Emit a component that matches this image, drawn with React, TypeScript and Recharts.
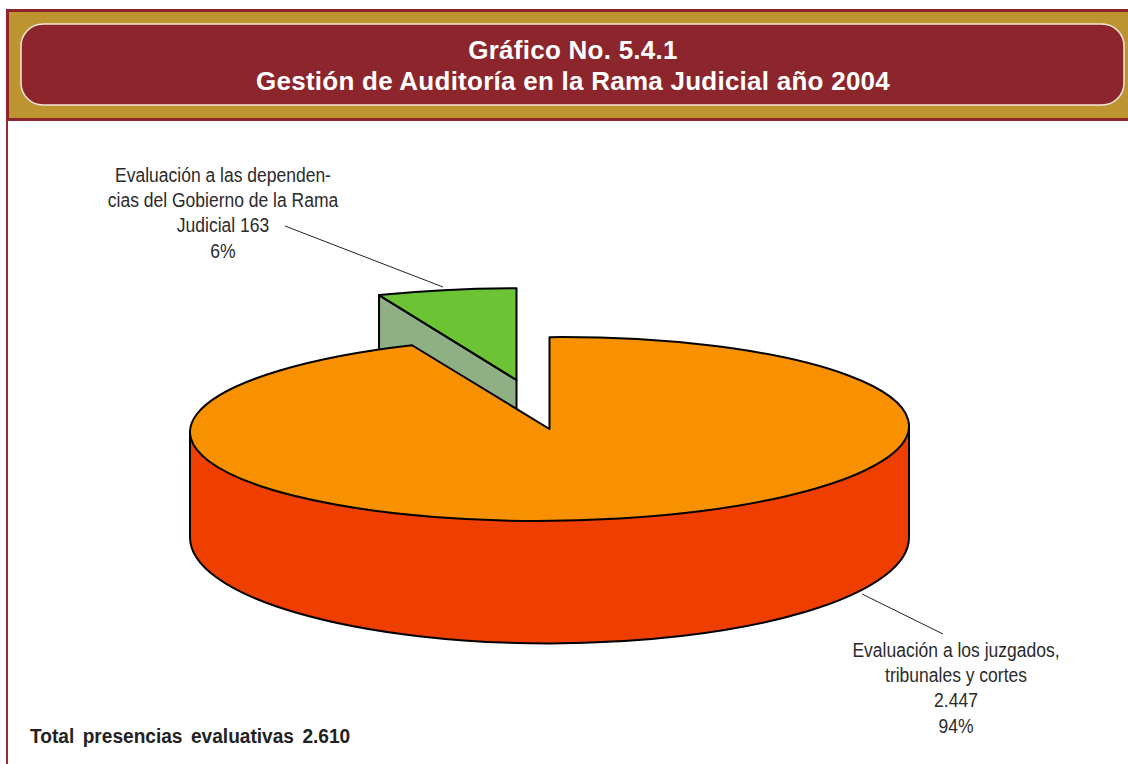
import React from 'react';
import { PieChart, Pie } from 'recharts';

const categories = ['Dependencias del Gobierno', 'Juzgados, tribunales y cortes'];
const values = [163, 2447];
const topColors = ['#6CC334', '#F79100'];
const wallColors = ['#8FAF85', '#EE3E00'];
const labelLines = [
  ['Evaluación a las dependen-', 'cias del Gobierno de la Rama', 'Judicial 163', '6%'],
  ['Evaluación a los juzgados,', 'tribunales y cortes', '2.447', '94%'],
];
const titleLines = ['Gráfico No. 5.4.1', 'Gestión de Auditoría en la Rama Judicial año 2004'];
const totalText = 'Total presencias evaluativas 2.610';

const data = categories.map((name, i) => ({ name, value: values[i], index: i }));

const WIDTH = 1128;
const HEIGHT = 764;
const RY_RATIO = 92 / 360;
const SMALL_DEPTH = 108;
const BOTTOM_CY_OFFSET = 108;
const BOTTOM_RY = 106;
const TILT = -3 / 360; // the top of the big slice leans up a little to the right
const BAR_RED = '#8C262C';
const LABEL_FONT = '"Liberation Sans", Arial, sans-serif';

// the small slice is pulled out of the pie, up and to the left
const explode = [
  { dx: -33, dy: -49 },
  { dx: 0, dy: 0 },
];
const labelPos = [
  { x: 223, y: 182, from: [285, 226], to: [443, 287] },
  { x: 956, y: 657, from: [862, 594], to: [943, 634] },
];

const PieSlice = (props: any) => {
  const { cx, cy, outerRadius, startAngle, endAngle, payload } = props;
  const i = payload.index;
  const ox = cx + explode[i].dx;
  const oy = cy + explode[i].dy;
  const rx = outerRadius;
  const ry = outerRadius * RY_RATIO;
  const pt = (deg: number) => {
    const t = (deg * Math.PI) / 180;
    return [ox + rx * Math.cos(t), oy - ry * Math.sin(t)];
  };
  const [sx, sy] = pt(startAngle);
  const [ex, ey] = pt(endAngle);
  const large = Math.abs(endAngle - startAngle) > 180 ? 1 : 0;
  const top = `M${ox},${oy} L${sx},${sy} A${rx},${ry} 0 ${large} 0 ${ex},${ey} Z`;

  let wall;
  if (i === 0) {
    // cut face of the pulled out slice, the big slice covers its lower part
    wall = `M${ex},${ey} L${ox},${oy} L${ox},${oy + SMALL_DEPTH} L${ex},${ey + SMALL_DEPTH} Z`;
  } else {
    // straight closing edge stays hidden under the top face
    const tilt = rx * TILT;
    wall = `M${ox - rx},${oy - tilt} L${ox - rx},${oy + BOTTOM_CY_OFFSET + 1} A${rx},${BOTTOM_RY} 0 0 0 ${ox + rx},${oy + BOTTOM_CY_OFFSET} L${ox + rx},${oy + tilt} Z`;
  }

  return (
    <g>
      <path d={wall} fill={wallColors[i]} stroke="#000" strokeWidth={2} strokeLinejoin="round" />
      <path
        d={top}
        fill={topColors[i]}
        stroke="#000"
        strokeWidth={2}
        strokeLinejoin="round"
        transform={i === 1 ? `matrix(1 ${TILT} 0 1 0 ${-TILT * ox})` : undefined}
      />
    </g>
  );
};

const SliceLabel = (props: any) => {
  const i = props.index;
  const p = labelPos[i];
  return (
    <g>
      <line x1={p.from[0]} y1={p.from[1]} x2={p.to[0]} y2={p.to[1]} stroke="#222" strokeWidth={1} />
      {labelLines[i].map((line, n) => (
        <text
          key={n}
          transform={`translate(${p.x} ${p.y + n * 25.2}) scale(0.875 1)`}
          textAnchor="middle"
          fontFamily={LABEL_FONT}
          fontSize={20}
          fill="#2b2b2b"
        >
          {line}
        </text>
      ))}
    </g>
  );
};

export default function App() {
  return (
    <div style={{ position: 'absolute', left: 0, top: 0, width: WIDTH, height: HEIGHT, background: '#fff' }}>
      <PieChart width={WIDTH} height={HEIGHT} margin={{ top: 0, right: 0, bottom: 0, left: 0 }}>
        <rect x={6} y={120} width={2} height={644} fill="#9B2B33" />
        <rect x={6} y={9} width={1122} height={112} fill={BAR_RED} />
        <rect x={9} y={12} width={1119} height={106} fill="#BE9431" />
        <rect x={21} y={24} width={1103} height={81} rx={22} fill={BAR_RED} stroke="#F3E6DC" strokeWidth={1.5} />
        {titleLines.map((line, n) => (
          <text
            key={n}
            x={573}
            y={59 + n * 31}
            textAnchor="middle"
            fontFamily={LABEL_FONT}
            fontWeight="bold"
            fontSize={26}
            letterSpacing={0.25}
            fill="#fff"
          >
            {line}
          </text>
        ))}
        <Pie
          data={data}
          dataKey="value"
          nameKey="name"
          cx={549.5}
          cy={429}
          outerRadius={359.5}
          startAngle={90}
          endAngle={450}
          paddingAngle={0}
          shape={PieSlice}
          label={SliceLabel}
          labelLine={false}
          isAnimationActive={false}
        />
        <text
          transform="translate(30 743) scale(0.91 1)"
          fontFamily={LABEL_FONT}
          fontWeight="bold"
          fontSize={21}
          wordSpacing={3.5}
          fill="#222"
        >
          {totalText}
        </text>
      </PieChart>
    </div>
  );
}
